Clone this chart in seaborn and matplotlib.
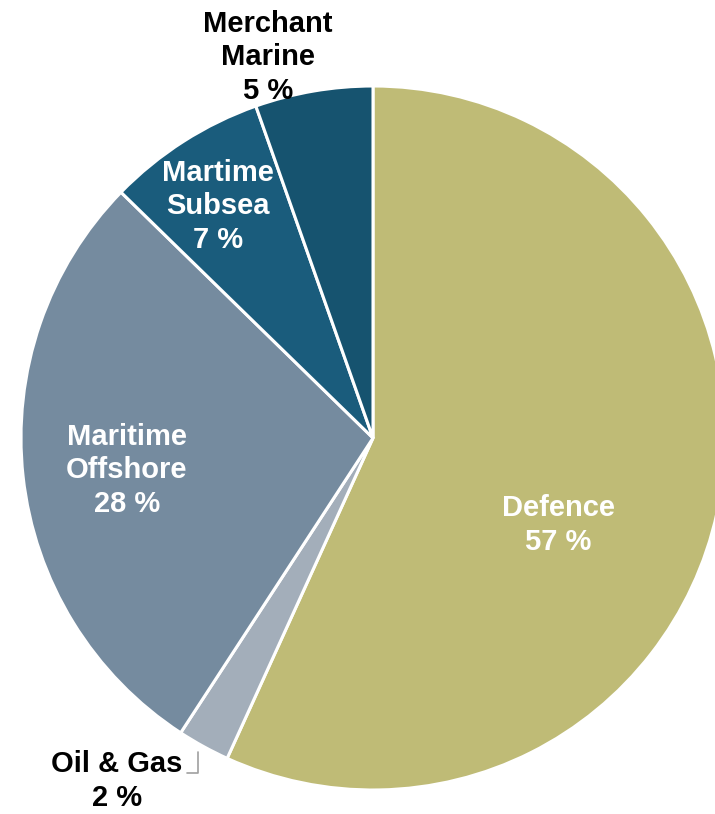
import matplotlib
matplotlib.use("Agg")
import matplotlib.pyplot as plt
import seaborn as sns

# segment shares and the rounded labels shown
segments = ["Defence", "Oil & Gas", "Maritime\nOffshore", "Martime\nSubsea", "Merchant\nMarine"]
shares = [56.8, 2.4, 28.1, 7.3, 5.4]
shown_pct = [57, 2, 28, 7, 5]
colors = ["#BFBB76", "#A3AEBA", "#758B9F", "#1A5C7C", "#16536F"]

sns.set_style("white")
plt.rcParams["font.family"] = ["Liberation Sans", "DejaVu Sans"]

fig = plt.figure(figsize=(7.15, 8.14), dpi=100)
# pie centre at (373, 438) px, radius 352 px -> right side runs off the figure
ax = fig.add_axes([21 / 715, 24 / 814, 704 / 715, 704 / 814])
ax.pie(shares, colors=colors, startangle=90, counterclock=False, radius=1,
       wedgeprops=dict(edgecolor="white", linewidth=2.2))
ax.set_xlim(-1, 1)
ax.set_ylim(-1, 1)
ax.set_aspect("equal")
ax.axis("off")

label_pos = {
    "Defence": (0.526, -0.247, "white"),
    "Oil & Gas": (-0.727, -0.975, "black"),
    "Maritime\nOffshore": (-0.699, -0.091, "white"),
    "Martime\nSubsea": (-0.44, 0.659, "white"),
    "Merchant\nMarine": (-0.298, 1.082, "black"),
}
for name, pct in zip(segments, shown_pct):
    x, y, c = label_pos[name]
    ax.text(x, y, f"{name}\n{pct} %", ha="center", va="center", color=c,
            fontsize=21, fontweight="bold", linespacing=1.25, clip_on=False)

# leader line for the small slice
ax.plot([-0.528, -0.497, -0.497], [-0.952, -0.952, -0.892], color="#A0A0A0",
        linewidth=1.2, clip_on=False)

fig.savefig("out.png", dpi=100)
